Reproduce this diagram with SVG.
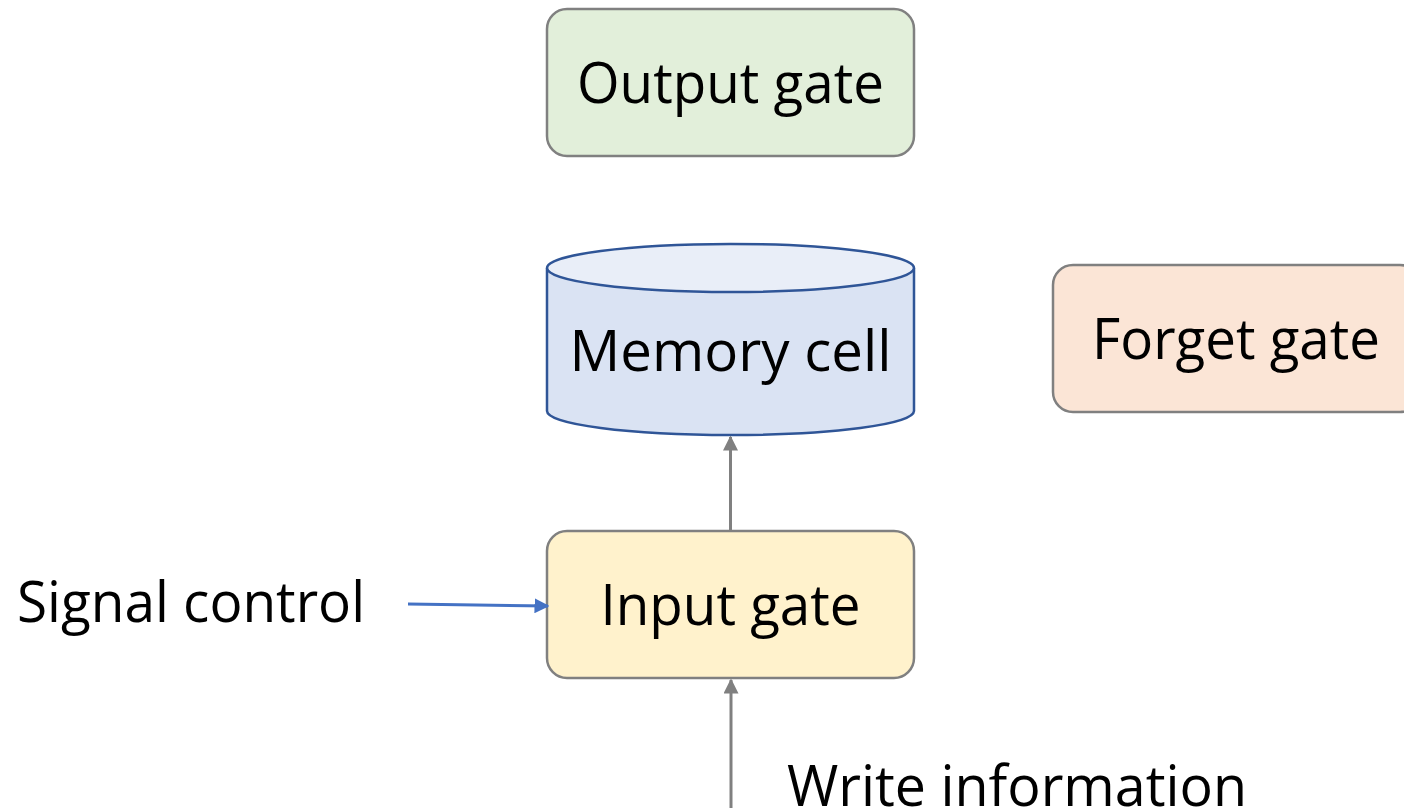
<svg xmlns="http://www.w3.org/2000/svg" width="1404" height="810" viewBox="0 0 1404 810">
  <style>
    .lbl { font-family: "Open Sans", "Noto Sans", "Liberation Sans", sans-serif; font-size: 56px; fill: #000; }
    .box { stroke: #808080; stroke-width: 2.5; }
    .conn { fill: none; stroke-width: 3; }
  </style>
  <defs>
    <marker id="arrGray" viewBox="0 0 10 10" refX="9" refY="5" markerWidth="5" markerHeight="5" orient="auto" markerUnits="strokeWidth">
      <path d="M0,0 L10,5 L0,10 z" fill="#808080"/>
    </marker>
    <marker id="arrBlue" viewBox="0 0 10 10" refX="9" refY="5" markerWidth="5" markerHeight="5" orient="auto" markerUnits="strokeWidth">
      <path d="M0,0 L10,5 L0,10 z" fill="#4472C4"/>
    </marker>
  </defs>

  <rect width="1404" height="810" fill="#fff"/>

  <g id="output-gate">
    <rect class="box" x="547" y="9" width="367" height="147" rx="20" fill="#E2EFDA"/>
    <text class="lbl" x="730.5" y="103" text-anchor="middle" textLength="307" lengthAdjust="spacingAndGlyphs">Output gate</text>
  </g>

  <g id="memory-cell">
    <path d="M547,268 L547,411 A183.5,24 0 0 0 914,411 L914,268" fill="#DAE3F3" stroke="#2F5597" stroke-width="2.5"/>
    <ellipse cx="730.5" cy="268" rx="183.5" ry="24" fill="#E9EEF8" stroke="#2F5597" stroke-width="2.5"/>
    <text class="lbl" x="730.5" y="371" text-anchor="middle" textLength="322" lengthAdjust="spacingAndGlyphs">Memory cell</text>
  </g>

  <g id="forget-gate">
    <rect class="box" x="1053" y="265" width="367" height="147" rx="20" fill="#FBE5D6"/>
    <text class="lbl" x="1092" y="359" textLength="288" lengthAdjust="spacingAndGlyphs">Forget gate</text>
  </g>

  <g id="input-gate">
    <rect class="box" x="547" y="531" width="367" height="147" rx="20" fill="#FFF2CC"/>
    <text class="lbl" x="730.5" y="625" text-anchor="middle" textLength="260" lengthAdjust="spacingAndGlyphs">Input gate</text>
  </g>

  <g id="signal-control">
    <text class="lbl" x="17" y="622" textLength="348" lengthAdjust="spacingAndGlyphs">Signal control</text>
  </g>

  <g id="write-information">
    <text class="lbl" x="787" y="806" textLength="460" lengthAdjust="spacingAndGlyphs">Write information</text>
  </g>

  <g id="connectors">
    <path class="conn" d="M730.5,531 L730.5,437" stroke="#808080" marker-end="url(#arrGray)"/>
    <path class="conn" d="M731,808 L731,680" stroke="#808080" marker-end="url(#arrGray)"/>
    <path class="conn" d="M408,604 L548,606" stroke="#4472C4" marker-end="url(#arrBlue)"/>
  </g>
</svg>
